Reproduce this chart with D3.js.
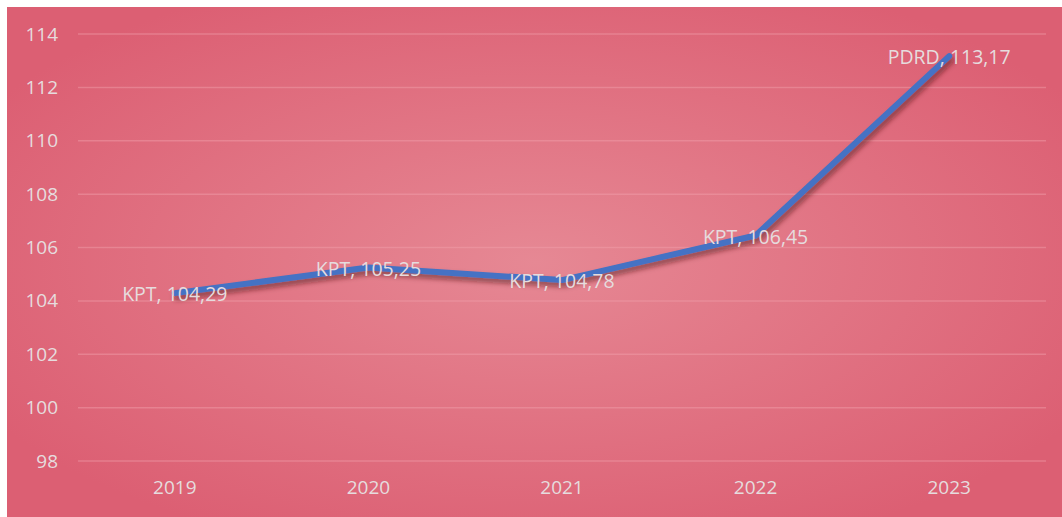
<!DOCTYPE html>
<html lang="en">
<head>
  <meta charset="UTF-8">
  <title>KPT / PDRD</title>
  <script src="https://d3js.org/d3.v7.min.js"></script>
  <style>
    body {
      margin: 0;
      background: #fff;
    }
    svg text {
      font-family: "Open Sans", sans-serif;
    }
  </style>
</head>
<body>
<svg width="1062" height="517"></svg>
<script>
const years = ["2019", "2020", "2021", "2022", "2023"];
const values = [104.29, 105.25, 104.78, 106.45, 113.17];
const series = ["KPT", "KPT", "KPT", "KPT", "PDRD"];
const yTicks = [98, 100, 102, 104, 106, 108, 110, 112, 114];

const data = years.map((y, i) => ({ year: y, value: values[i], name: series[i] }));

const svg = d3.select("svg"),
      margin = {top: 34, right: 16, bottom: 55, left: 78},
      width = 1062 - margin.left - margin.right,
      height = 517 - margin.top - margin.bottom;

const textColor = "#e6dcde";

const defs = svg.append("defs");
const grad = defs.append("radialGradient")
  .attr("id", "bg")
  .attr("cx", "50%").attr("cy", "50%").attr("r", "60%");
grad.append("stop").attr("offset", "0%").attr("stop-color", "#e68894");
grad.append("stop").attr("offset", "100%").attr("stop-color", "#dc5f73");

const shadow = defs.append("filter").attr("id", "shadow")
  .attr("x", "-10%").attr("y", "-10%").attr("width", "120%").attr("height", "130%");
shadow.append("feDropShadow")
  .attr("dx", 2).attr("dy", 4).attr("stdDeviation", 2.5)
  .attr("flood-color", "#4a0a18").attr("flood-opacity", 0.55);

svg.append("rect")
  .attr("x", 7).attr("y", 7)
  .attr("width", 1062 - 7).attr("height", 517 - 7)
  .attr("fill", "url(#bg)");

const g = svg.append("g").attr("transform", `translate(${margin.left},${margin.top})`);

const x = d3.scaleBand().domain(years).range([0, width]);
const y = d3.scaleLinear().domain([98, 114]).range([height - 1, 0]);

// gridlines
g.append("g")
  .selectAll("line")
  .data(yTicks)
  .join("line")
  .attr("x1", 0).attr("x2", width)
  .attr("y1", d => y(d)).attr("y2", d => y(d))
  .attr("stroke", "#f2a2ad")
  .attr("stroke-opacity", 0.45)
  .attr("stroke-width", 1.5);

// y axis
const yAxis = g.append("g")
  .call(d3.axisLeft(y).tickValues(yTicks).tickSize(0).tickPadding(20));
yAxis.select(".domain").remove();
yAxis.selectAll("text")
  .attr("fill", textColor)
  .attr("font-size", 19);

// x axis
const xAxis = g.append("g")
  .attr("transform", `translate(0,${height})`)
  .call(d3.axisBottom(x).tickSize(0).tickPadding(19));
xAxis.select(".domain").remove();
xAxis.selectAll("text")
  .attr("fill", textColor)
  .attr("font-size", 19);

// line
const line = d3.line()
  .x(d => x(d.year) + x.bandwidth() / 2)
  .y(d => y(d.value));

g.append("path")
  .datum(data)
  .attr("d", line)
  .attr("fill", "none")
  .attr("stroke", "#4472c4")
  .attr("stroke-width", 6)
  .attr("stroke-linejoin", "round")
  .attr("stroke-linecap", "round")
  .attr("filter", "url(#shadow)");

// labels
g.append("g")
  .selectAll("text")
  .data(data)
  .join("text")
  .attr("x", d => x(d.year) + x.bandwidth() / 2)
  .attr("y", d => y(d.value))
  .attr("dy", "0.42em")
  .attr("text-anchor", "middle")
  .attr("fill", textColor)
  .attr("font-size", 19.5)
  .text(d => `${d.name}, ${d.value.toFixed(2).replace(".", ",")}`);
</script>
</body>
</html>
